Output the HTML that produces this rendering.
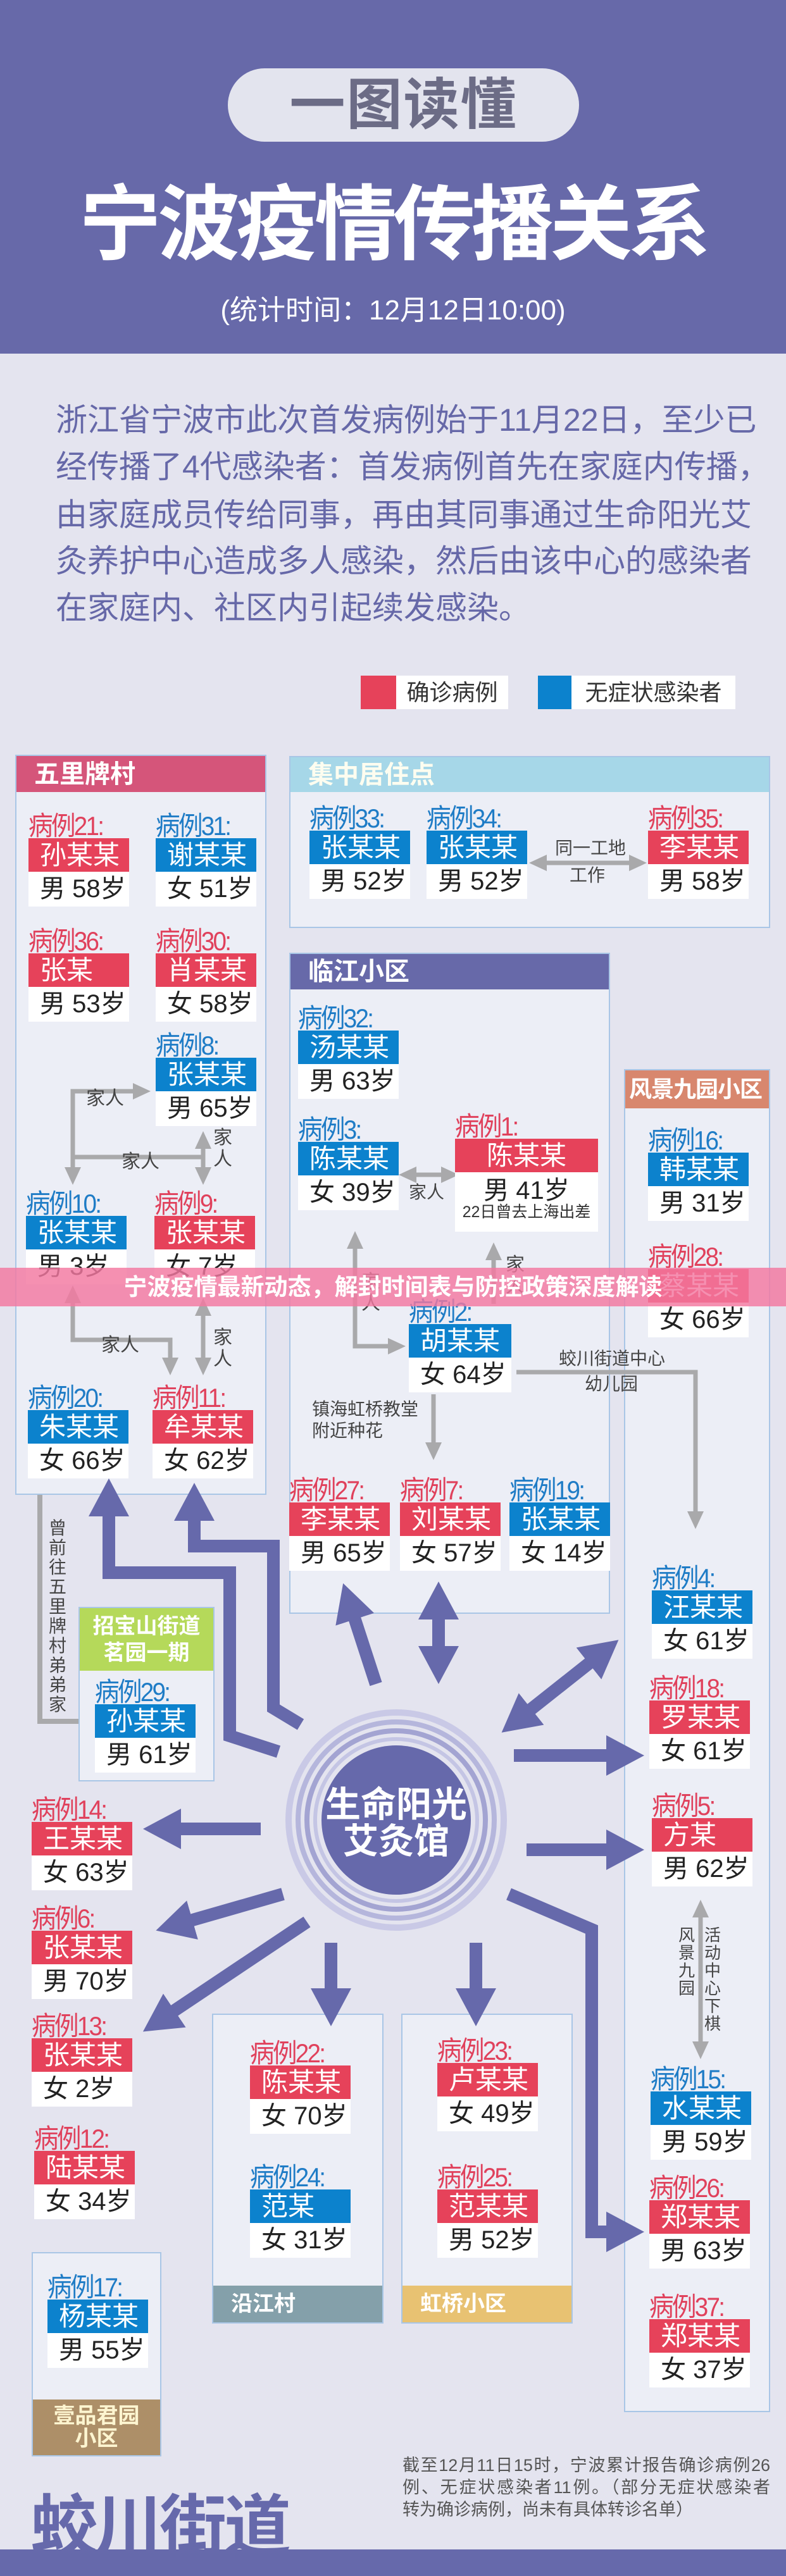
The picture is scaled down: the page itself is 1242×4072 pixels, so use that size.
<!DOCTYPE html>
<html><head><meta charset="utf-8">
<style>
*{margin:0;padding:0;box-sizing:border-box}
body{width:1242px;height:4072px;position:relative;overflow:hidden;background:#e4e4ef;font-family:"Liberation Sans","Noto Sans CJK SC",sans-serif}
.abs{position:absolute}
.grp{position:absolute;background:#eceef6;border:2px solid #a9c6e6}
.hd{position:absolute;left:0;right:0;color:#fff;font-weight:bold;font-size:40px;line-height:1;display:flex;align-items:center;padding-left:28px;white-space:nowrap}
.c{position:absolute;width:159px}
.c .l{height:38px;font-size:42px;line-height:38px;letter-spacing:-3px;white-space:nowrap;transform:scaleX(.92);transform-origin:left}
.c .n{height:53px;font-size:42px;line-height:53px;color:#fff;padding-left:18px;white-space:nowrap}
.c .a{height:55px;font-size:40px;line-height:55px;background:#fff;color:#222;padding-left:18px;white-space:nowrap}
.r .l{color:#e0415c}.r .n{background:#e6425a}
.b .l{color:#1f7cc6}.b .n{background:#0c82cd}
.t{position:absolute;font-size:30px;color:#444;line-height:1;white-space:nowrap}
.v{position:absolute;font-size:30px;color:#444;line-height:34px;width:34px;text-align:center}
.p{position:absolute;left:88px;width:983px;font-size:50px;line-height:74px;height:74px;color:#6668a8;text-align:justify;text-align-last:justify;white-space:nowrap}
</style></head><body>

<div class="abs" style="left:0;top:0;width:1242px;height:559px;background:#6769a9"></div>
<div class="abs" style="left:360px;top:108px;width:555px;height:116px;border-radius:58px;background:#e3e4ee;color:#6c6c86;font-size:88px;font-weight:bold;line-height:116px;text-align:center;letter-spacing:2px">一图读懂</div>
<div class="abs" style="left:0;top:280px;width:1242px;text-align:center;color:#fff;font-size:130px;font-weight:bold;line-height:150px;letter-spacing:-6px">宁波疫情传播关系</div>
<div class="abs" style="left:0;top:465px;width:1242px;text-align:center;color:#fff;font-size:44px;line-height:52px">(统计时间：12月12日10:00)</div>

<div class="p" style="top:627px">浙江省宁波市此次首发病例始于11月22日，至少已</div>
<div class="p" style="top:701px">经传播了4代感染者：首发病例首先在家庭内传播，</div>
<div class="p" style="top:777px">由家庭成员传给同事，再由其同事通过生命阳光艾</div>
<div class="p" style="top:850px">灸养护中心造成多人感染，然后由该中心的感染者</div>
<div class="p" style="top:924px;text-align-last:left">在家庭内、社区内引起续发感染。</div>

<div class="abs" style="left:570px;top:1068px;width:56px;height:53px;background:#e6425a"></div>
<div class="abs" style="left:626px;top:1068px;width:177px;height:53px;background:#fff;font-size:36px;line-height:53px;text-align:center;color:#333">确诊病例</div>
<div class="abs" style="left:850px;top:1068px;width:53px;height:53px;background:#0c82cd"></div>
<div class="abs" style="left:903px;top:1068px;width:259px;height:53px;background:#fff;font-size:36px;line-height:53px;text-align:center;color:#333">无症状感染者</div>

<div class="grp" style="left:24px;top:1193px;width:397px;height:1170px"><div class="hd" style="top:0;height:57px;background:#d5557a;color:#fff">五里牌村</div></div>
<div class="grp" style="left:457px;top:1195px;width:760px;height:272px"><div class="hd" style="top:0;height:55px;background:#a6d7e8;color:#fdfdf0">集中居住点</div></div>
<div class="grp" style="left:457px;top:1506px;width:507px;height:1045px"><div class="hd" style="top:0;height:56px;background:#6769a9">临江小区</div></div>
<div class="grp" style="left:986px;top:1690px;width:231px;height:2123px"><div class="hd" style="top:0;height:60px;background:#d8876e;padding-left:6px;font-size:36px;letter-spacing:-1px">风景九园小区</div></div>
<div class="grp" style="left:124px;top:2540px;width:215px;height:276px"><div class="hd" style="top:0;height:99px;background:#b5d95a;font-size:34px;padding:0;justify-content:center;text-align:center;line-height:42px;flex-direction:column">招宝山街道<br>茗园一期</div></div>
<div class="grp" style="left:335px;top:3183px;width:271px;height:490px"><div class="hd" style="bottom:0;height:58px;background:#84a0aa;font-size:34px">沿江村</div></div>
<div class="grp" style="left:634px;top:3183px;width:271px;height:490px"><div class="hd" style="bottom:0;height:58px;background:#e8c272;font-size:34px">虹桥小区</div></div>
<div class="grp" style="left:50px;top:3560px;width:205px;height:323px"><div class="hd" style="bottom:0;height:88px;background:#ad8f68;color:#fdf5d0;font-size:34px;padding:0;justify-content:center;text-align:center;line-height:36px;flex-direction:column">壹品君园<br>小区</div></div>

<svg class="abs" style="left:0;top:0" width="1242" height="4072">
<defs>
<marker id="pa" markerUnits="userSpaceOnUse" markerWidth="60" markerHeight="64" refX="25" refY="32" orient="auto-start-reverse"><path d="M0,0 L60,32 L0,64 Z" fill="#6669ab"/></marker>
<marker id="ga" markerUnits="userSpaceOnUse" markerWidth="28" markerHeight="26" refX="10" refY="13" orient="auto-start-reverse"><path d="M0,0 L28,13 L0,26 Z" fill="#a9a9ab"/></marker>
</defs>
<g fill="none">
<circle cx="626" cy="2877" r="170" stroke="#c9c9e6" stroke-width="10"/>
<circle cx="626" cy="2877" r="155" stroke="#b5b6dc" stroke-width="8"/>
<circle cx="626" cy="2877" r="141" stroke="#a3a4d2" stroke-width="8"/>
<circle cx="626" cy="2877" r="128" stroke="#c4c5e4" stroke-width="6"/>
</g>
<circle cx="626" cy="2877" r="118" fill="#6669ab"/>
<text x="626" y="2872" font-size="56" font-weight="bold" fill="#fff" text-anchor="middle" font-family="Liberation Sans,Noto Sans CJK SC,sans-serif">生命阳光</text>
<text x="626" y="2930" font-size="56" font-weight="bold" fill="#fff" text-anchor="middle" font-family="Liberation Sans,Noto Sans CJK SC,sans-serif">艾灸馆</text>

<g stroke="#6669ab" stroke-width="20" fill="none" stroke-linejoin="miter">
<path d="M440,2769 L363,2744 L363,2486 L172,2486 L172,2372" marker-end="url(#pa)"/>
<path d="M475,2726 L432,2700 L432,2444 L307,2444 L307,2379" marker-end="url(#pa)"/>
<path d="M594,2662 L553,2536" marker-end="url(#pa)"/>
<path d="M693,2627 L693,2535" marker-start="url(#pa)" marker-end="url(#pa)"/>
<path d="M820,2717 L950,2614" marker-start="url(#pa)" marker-end="url(#pa)"/>
<path d="M812,2775 L983,2775" marker-end="url(#pa)"/>
<path d="M832,2924 L983,2924" marker-end="url(#pa)"/>
<path d="M804,2994 L935,3050 L935,3528 L983,3528" marker-end="url(#pa)"/>
<path d="M412,2891 L261,2891" marker-end="url(#pa)"/>
<path d="M447,2994 L280,3042" marker-end="url(#pa)"/>
<path d="M485,3038 L255,3192" marker-end="url(#pa)"/>
<path d="M523,3071 L523,3168" marker-end="url(#pa)"/>
<path d="M752,3071 L752,3168" marker-end="url(#pa)"/>
</g>

<g stroke="#a9a9ab" stroke-width="7" fill="none">
<path d="M220,1725 L115,1725 L115,1855" marker-start="url(#ga)" marker-end="url(#ga)"/>
<path d="M115,1829 L321,1829"/>
<path d="M321,1806 L321,1855" marker-start="url(#ga)" marker-end="url(#ga)"/>
<path d="M115,2050 L115,2118 L269,2118 L269,2156" marker-start="url(#ga)" marker-end="url(#ga)"/>
<path d="M321,2070 L321,2156" marker-start="url(#ga)" marker-end="url(#ga)"/>
<path d="M561,1964 L561,2128 L623,2128" marker-start="url(#ga)" marker-end="url(#ga)"/>
<path d="M780,1982 L780,2061" marker-start="url(#ga)"/>
<path d="M685,2204 L685,2290" marker-end="url(#ga)"/>
<path d="M816,2169 L1099,2169 L1099,2399" marker-end="url(#ga)"/>
<path d="M854,1364 L1004,1364" marker-start="url(#ga)" marker-end="url(#ga)"/>
<path d="M648,1857 L707,1857" marker-start="url(#ga)" marker-end="url(#ga)"/>
<path d="M1107,3021 L1107,3237" marker-start="url(#ga)" marker-end="url(#ga)"/>
<path d="M63,2363 L63,2721 L124,2721" stroke-width="8"/>
</g>
</svg>

<div class="t" style="left:136px;top:1722px">家人</div>
<div class="t" style="left:192px;top:1822px">家人</div>
<div class="v" style="left:335px;top:1782px">家<br>人</div>
<div class="t" style="left:160px;top:2112px">家人</div>
<div class="v" style="left:335px;top:2098px">家<br>人</div>
<div class="v" style="left:569px;top:2010px">家<br>人</div>
<div class="v" style="left:797px;top:1983px">家<br>人</div>
<div class="t" style="left:646px;top:1871px;font-size:28px">家人</div>
<div class="t" style="left:877px;top:1327px;font-size:28px">同一工地</div>
<div class="t" style="left:900px;top:1370px;font-size:28px">工作</div>
<div class="t" style="left:493px;top:2214px;font-size:28px">镇海虹桥教堂</div>
<div class="t" style="left:493px;top:2248px;font-size:28px">附近种花</div>
<div class="t" style="left:883px;top:2134px;font-size:28px">蛟川街道中心</div>
<div class="t" style="left:924px;top:2174px;font-size:28px">幼儿园</div>
<div class="v" style="left:74px;top:2400px;font-size:28px;line-height:31px">曾<br>前<br>往<br>五<br>里<br>牌<br>村<br>弟<br>弟<br>家</div>
<div class="v" style="left:1068px;top:3045px;font-size:26px;line-height:28px">风<br>景<br>九<br>园</div>
<div class="v" style="left:1109px;top:3045px;font-size:26px;line-height:28px">活<br>动<br>中<br>心<br>下<br>棋</div>

<div class="c r" style="left:45px;top:1287px"><div class="l">病例21:</div><div class="n">孙某某</div><div class="a">男 58岁</div></div>
<div class="c b" style="left:246px;top:1287px"><div class="l">病例31:</div><div class="n">谢某某</div><div class="a">女 51岁</div></div>
<div class="c r" style="left:45px;top:1469px"><div class="l">病例36:</div><div class="n">张某</div><div class="a">男 53岁</div></div>
<div class="c r" style="left:246px;top:1469px"><div class="l">病例30:</div><div class="n">肖某某</div><div class="a">女 58岁</div></div>
<div class="c b" style="left:246px;top:1634px"><div class="l">病例8:</div><div class="n">张某某</div><div class="a">男 65岁</div></div>
<div class="c b" style="left:41px;top:1884px"><div class="l">病例10:</div><div class="n">张某某</div><div class="a">男 3岁</div></div>
<div class="c r" style="left:244px;top:1884px"><div class="l">病例9:</div><div class="n">张某某</div><div class="a">女 7岁</div></div>
<div class="c b" style="left:44px;top:2191px"><div class="l">病例20:</div><div class="n">朱某某</div><div class="a">女 66岁</div></div>
<div class="c r" style="left:241px;top:2191px"><div class="l">病例11:</div><div class="n">牟某某</div><div class="a">女 62岁</div></div>

<div class="c b" style="left:489px;top:1275px"><div class="l">病例33:</div><div class="n">张某某</div><div class="a">男 52岁</div></div>
<div class="c b" style="left:674px;top:1275px"><div class="l">病例34:</div><div class="n">张某某</div><div class="a">男 52岁</div></div>
<div class="c r" style="left:1024px;top:1275px"><div class="l">病例35:</div><div class="n">李某某</div><div class="a">男 58岁</div></div>

<div class="c b" style="left:471px;top:1591px"><div class="l">病例32:</div><div class="n">汤某某</div><div class="a">男 63岁</div></div>
<div class="c b" style="left:471px;top:1767px"><div class="l">病例3:</div><div class="n">陈某某</div><div class="a">女 39岁</div></div>
<div class="c r" style="left:719px;top:1762px;width:226px"><div class="l">病例1:</div><div class="n" style="text-align:center;padding:0">陈某某</div><div class="a" style="height:94px;text-align:center;padding:0;line-height:58px">男 41岁<div style="font-size:25px;line-height:26px;color:#333;margin-top:-8px">22日曾去上海出差</div></div></div>
<div class="c b" style="left:646px;top:2055px;width:162px"><div class="l">病例2:</div><div class="n">胡某某</div><div class="a">女 64岁</div></div>
<div class="c r" style="left:457px;top:2337px"><div class="l">病例27:</div><div class="n">李某某</div><div class="a">男 65岁</div></div>
<div class="c r" style="left:632px;top:2337px"><div class="l">病例7:</div><div class="n">刘某某</div><div class="a">女 57岁</div></div>
<div class="c b" style="left:805px;top:2337px"><div class="l">病例19:</div><div class="n">张某某</div><div class="a">女 14岁</div></div>

<div class="c b" style="left:1024px;top:1784px"><div class="l">病例16:</div><div class="n">韩某某</div><div class="a">男 31岁</div></div>
<div class="c r" style="left:1024px;top:1968px"><div class="l">病例28:</div><div class="n">蔡某某</div><div class="a">女 66岁</div></div>
<div class="c b" style="left:1030px;top:2476px"><div class="l">病例4:</div><div class="n">汪某某</div><div class="a">女 61岁</div></div>
<div class="c r" style="left:1026px;top:2650px"><div class="l">病例18:</div><div class="n">罗某某</div><div class="a">女 61岁</div></div>
<div class="c r" style="left:1030px;top:2836px"><div class="l">病例5:</div><div class="n">方某</div><div class="a">男 62岁</div></div>
<div class="c b" style="left:1028px;top:3268px"><div class="l">病例15:</div><div class="n">水某某</div><div class="a">男 59岁</div></div>
<div class="c r" style="left:1026px;top:3440px"><div class="l">病例26:</div><div class="n">郑某某</div><div class="a">男 63岁</div></div>
<div class="c r" style="left:1026px;top:3628px"><div class="l">病例37:</div><div class="n">郑某某</div><div class="a">女 37岁</div></div>

<div class="c r" style="left:50px;top:2842px"><div class="l">病例14:</div><div class="n">王某某</div><div class="a">女 63岁</div></div>
<div class="c r" style="left:50px;top:3014px"><div class="l">病例6:</div><div class="n">张某某</div><div class="a">男 70岁</div></div>
<div class="c r" style="left:50px;top:3184px"><div class="l">病例13:</div><div class="n">张某某</div><div class="a">女 2岁</div></div>
<div class="c r" style="left:54px;top:3362px"><div class="l">病例12:</div><div class="n">陆某某</div><div class="a">女 34岁</div></div>
<div class="c b" style="left:75px;top:3597px"><div class="l">病例17:</div><div class="n">杨某某</div><div class="a">男 55岁</div></div>
<div class="c b" style="left:150px;top:2656px"><div class="l">病例29:</div><div class="n">孙某某</div><div class="a">男 61岁</div></div>
<div class="c r" style="left:395px;top:3227px"><div class="l">病例22:</div><div class="n">陈某某</div><div class="a">女 70岁</div></div>
<div class="c b" style="left:395px;top:3423px"><div class="l">病例24:</div><div class="n">范某</div><div class="a">女 31岁</div></div>
<div class="c r" style="left:691px;top:3223px"><div class="l">病例23:</div><div class="n">卢某某</div><div class="a">女 49岁</div></div>
<div class="c r" style="left:691px;top:3423px"><div class="l">病例25:</div><div class="n">范某某</div><div class="a">男 52岁</div></div>

<div class="abs" style="left:636px;top:3880px;width:581px;font-size:27px;line-height:35px;color:#555;text-align:justify;text-align-last:justify">
<div>截至12月11日15时，宁波累计报告确诊病例26</div>
<div>例、无症状感染者11例。（部分无症状感染者</div>
<div style="text-align-last:left">转为确诊病例，尚未有具体转诊名单）</div>
</div>
<div class="abs" style="left:48px;top:3935px;font-size:106px;font-weight:bold;color:#6669ab;line-height:120px;letter-spacing:-4px">蛟川街道</div>
<div class="abs" style="left:0;top:4030px;width:1242px;height:42px;background:#6669ab"></div>

<div class="abs" style="left:0;top:2004px;width:1242px;height:61px;background:rgba(243,120,160,0.82);color:#fff;font-weight:bold;font-size:37px;line-height:61px;text-align:center">宁波疫情最新动态，解封时间表与防控政策深度解读</div>
</body></html>
